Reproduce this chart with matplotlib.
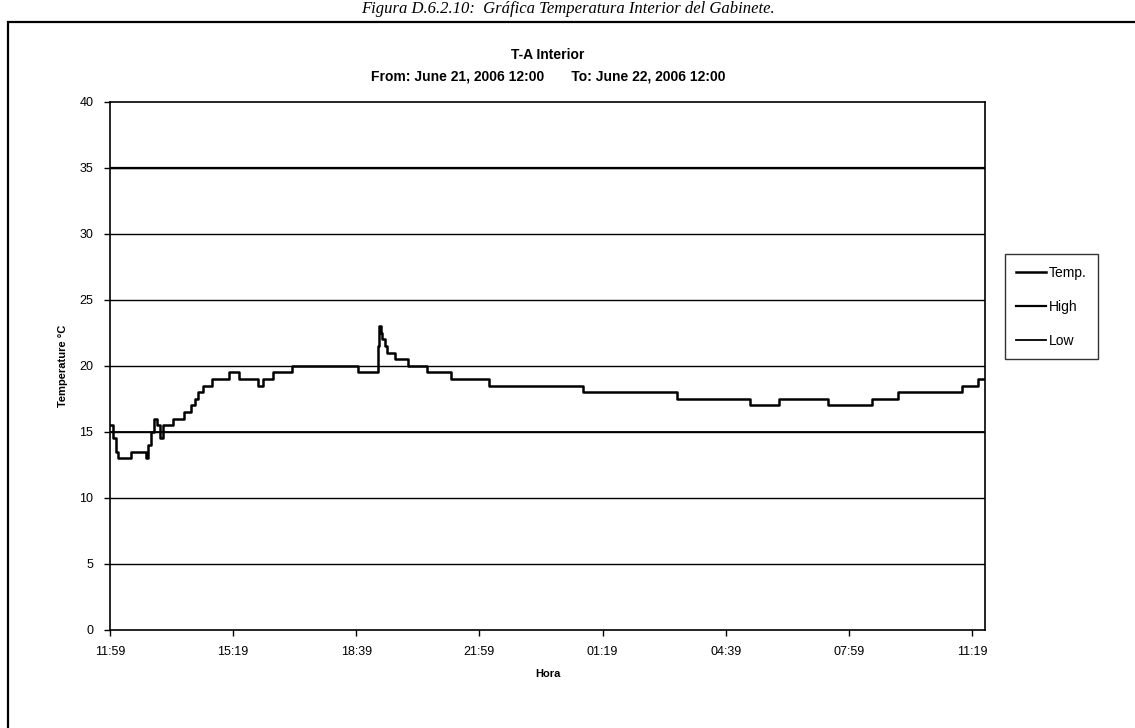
import matplotlib
matplotlib.use("Agg")
import matplotlib.pyplot as plt
from matplotlib.patches import Rectangle

plt.rcParams['font.family'] = ['Liberation Sans', 'DejaVu Sans']

# lecturas (hora, temperatura), a partir de las 11:59 del 21 de junio
times = ["11:59", "12:04", "12:09", "12:12", "12:33", "12:57", "13:01", "13:05",
         "13:10", "13:15", "13:20", "13:25", "13:41", "13:59", "14:11", "14:17",
         "14:22", "14:30", "14:45", "15:12", "15:29", "15:59", "16:07", "16:24",
         "16:55", "18:42", "19:14", "19:16", "19:19", "19:21", "19:26", "19:29",
         "19:42", "20:03", "20:34", "21:13", "22:15", "00:47", "03:20", "05:18",
         "06:06", "07:25", "08:37", "09:19", "11:03", "11:29", "11:40"]
temps = [15.5, 14.5, 13.5, 13.0, 13.5, 13.0, 14.0, 15.0,
         16.0, 15.5, 14.5, 15.5, 16.0, 16.5, 17.0, 17.5,
         18.0, 18.5, 19.0, 19.5, 19.0, 18.5, 19.0, 19.5,
         20.0, 19.5, 21.5, 23.0, 22.5, 22.0, 21.5, 21.0,
         20.5, 20.0, 19.5, 19.0, 18.5, 18.0, 17.5, 17.0,
         17.5, 17.0, 17.5, 18.0, 18.5, 19.0, 19.0]
high_limit = 35
low_limit = 15
tick_labels = ["11:59", "15:19", "18:39", "21:59", "01:19", "04:39", "07:59", "11:19"]


def to_minutes(hhmm, start=11 * 60 + 59):
    h, m = hhmm.split(":")
    t = int(h) * 60 + int(m) - start
    if t < 0:
        t += 24 * 60
    return t


x = [to_minutes(t) for t in times]
ticks = [to_minutes(t) for t in tick_labels]

fig = plt.figure(figsize=(11.35, 7.28), dpi=100)
ax = fig.add_axes([0.0969, 0.135, 0.7709, 0.7253])

for v in range(5, 40, 5):
    ax.axhline(v, color='black', linewidth=1.0, zorder=1)

ax.plot([x[0], x[-1]], [high_limit, high_limit], color='black', linewidth=1.6, label='High', zorder=2)
ax.plot([x[0], x[-1]], [low_limit, low_limit], color='black', linewidth=1.3, label='Low', zorder=2)
ax.plot(x, temps, color='black', linewidth=1.8, drawstyle='steps-post', label='Temp.', zorder=3)

ax.set_xlim(x[0], x[-1])
ax.set_ylim(0, 40)
ax.set_yticks(range(0, 41, 5))
ax.set_xticks(ticks)
ax.set_xticklabels(tick_labels)
ax.tick_params(labelsize=9, length=4, width=1, direction='out', pad=8)
for s in ax.spines.values():
    s.set_linewidth(1.2)

ax.set_xlabel("Hora", fontsize=8, fontweight='bold', labelpad=8)
ax.set_ylabel("Temperature °C", fontsize=8, fontweight='bold', labelpad=8)

fig.text(0.4828, 0.925, "T-A Interior", ha='center', va='center', fontsize=10, fontweight='bold')
fig.text(0.4828, 0.895, "From: June 21, 2006 12:00       To: June 22, 2006 12:00",
         ha='center', va='center', fontsize=10, fontweight='bold')

handles, labels = ax.get_legend_handles_labels()
order = [2, 0, 1]
leg = fig.legend([handles[i] for i in order], [labels[i] for i in order],
                 loc='upper left', bbox_to_anchor=(0.879, 0.66), fontsize=10,
                 frameon=True, fancybox=False, edgecolor='black', handlelength=2.2,
                 handletextpad=0.2, labelspacing=1.45, borderpad=0.8)
leg.get_frame().set_linewidth(1.0)

# marco exterior y pie de figura
fig.patches.append(Rectangle((0.007, -0.01), 1.0, 0.98, transform=fig.transFigure,
                             fill=False, edgecolor='black', linewidth=1.6))
fig.text(0.5, 0.999, "Figura D.6.2.10:  Gráfica Temperatura Interior del Gabinete.",
         ha='center', va='top', fontsize=12, style='italic', family='Liberation Serif')

fig.savefig("out.png", dpi=100)
